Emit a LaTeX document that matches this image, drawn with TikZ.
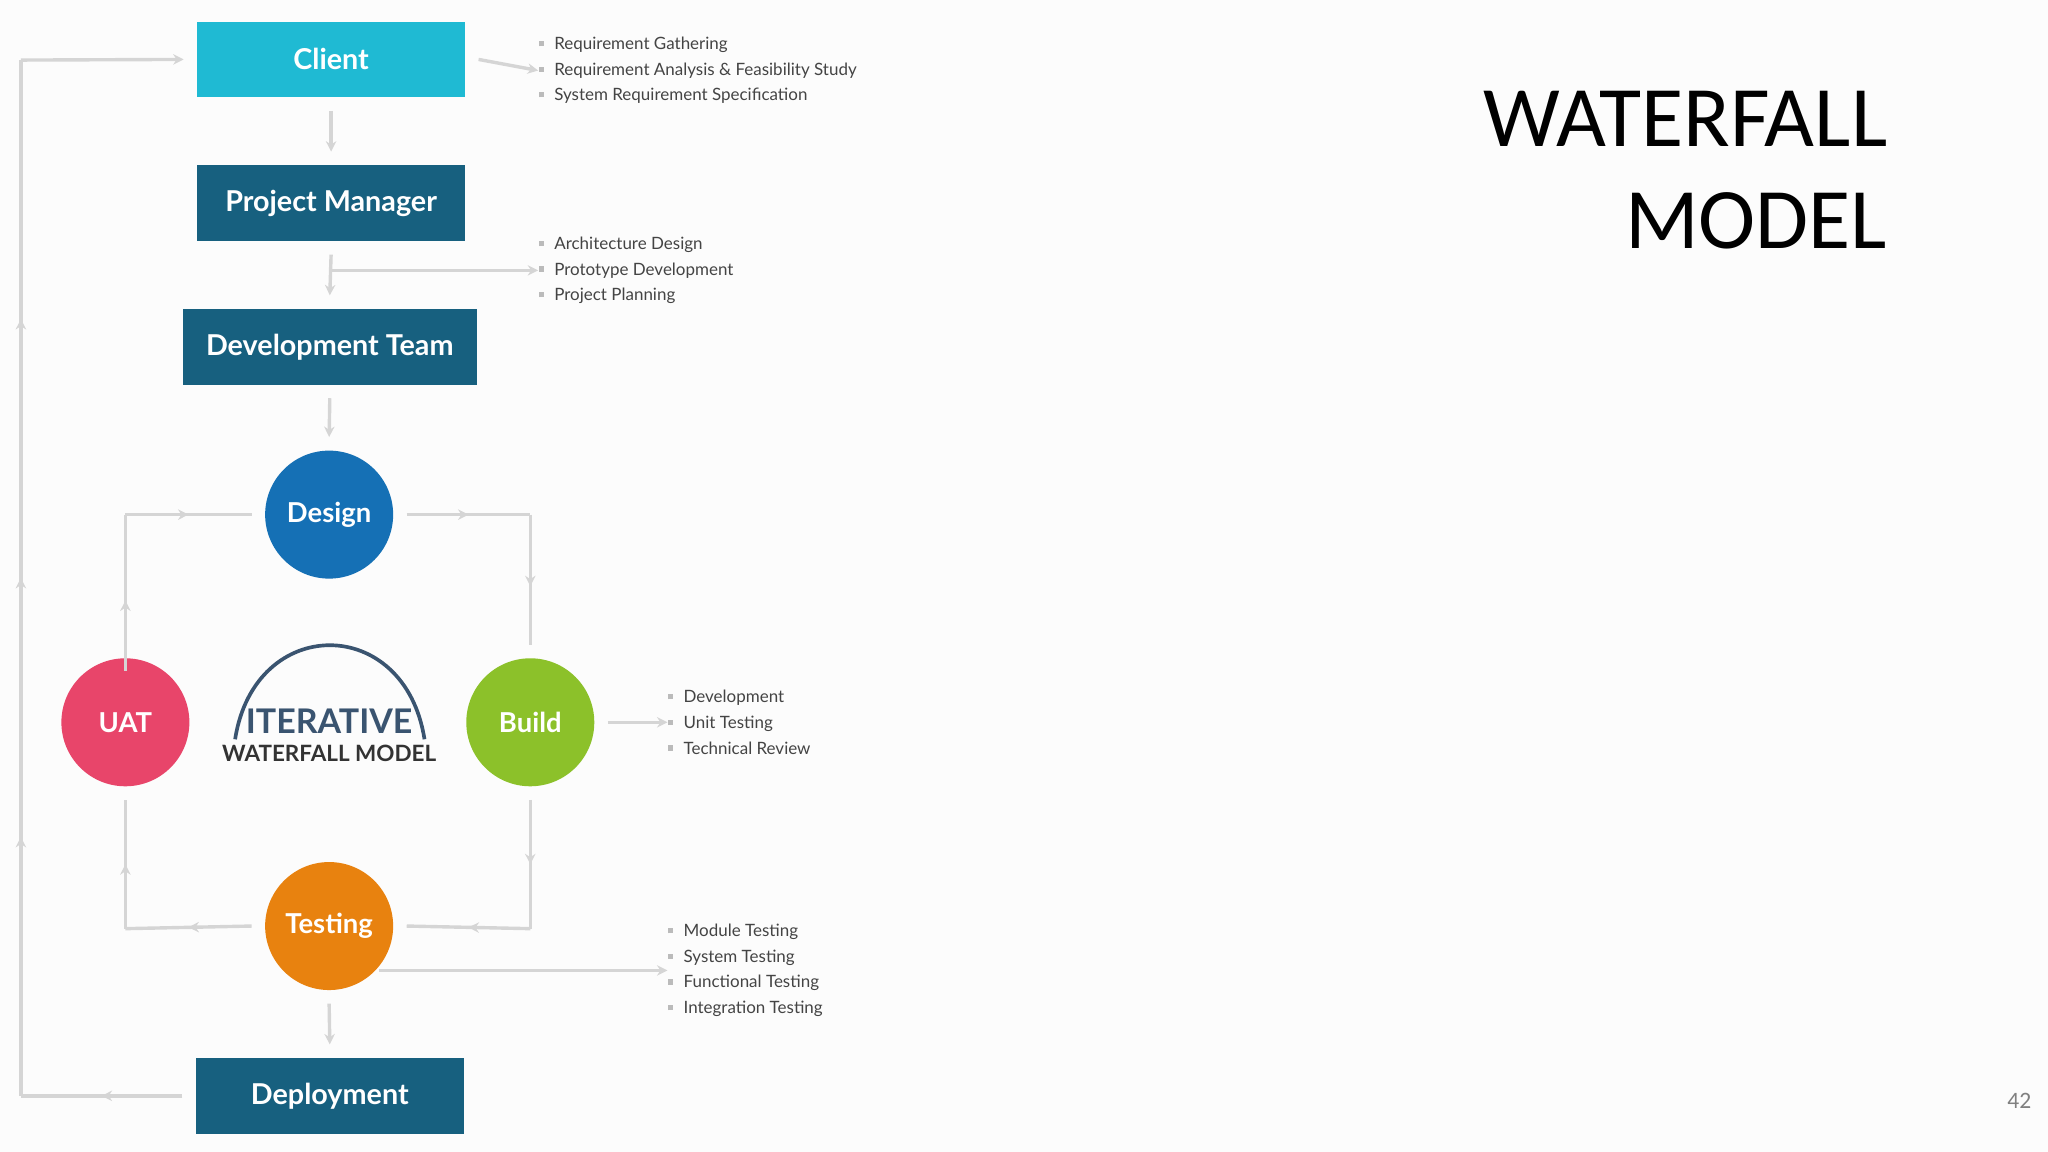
\documentclass[tikz,border=0pt]{standalone}
\usepackage{fontspec}
\setmainfont{Carlito}
\newfontfamily\lato{Lato}
\usetikzlibrary{decorations.markings,arrows.meta}
\definecolor{lineg}{HTML}{D5D5D5}
\definecolor{boxblue}{HTML}{17607F}
\definecolor{cyanb}{HTML}{1FBAD3}
\definecolor{designc}{HTML}{1570B5}
\definecolor{uatc}{HTML}{E8456A}
\definecolor{buildc}{HTML}{8CC12A}
\definecolor{testc}{HTML}{E8820F}
\definecolor{itc}{HTML}{3A5470}
\definecolor{txt}{HTML}{444444}
\tikzset{
  x=0.5pt,y=-0.5pt,
  box/.style={draw=none,minimum width=102.5pt,minimum height=29pt,inner sep=0pt,text=white,font=\lato\bfseries\fontsize{11}{13}\selectfont},
  circ/.style={circle,minimum size=49pt,inner sep=0pt,text=white,font=\lato\bfseries\fontsize{10.5}{12}\selectfont},
  conn/.style={draw=lineg,line width=1.3pt,-{Stealth[length=4pt,width=4pt]}},
  loop/.style={draw=lineg,line width=1.3pt,postaction={decorate},decoration={markings,mark=at position #1 with {\arrow{Stealth[length=4pt,width=4pt]}}}},
  loop/.default=0.5,
  bul/.style={anchor=west,inner sep=0pt,text=txt,font=\lato\fontsize{6.5}{9.8}\selectfont,align=left},
}
\newcommand{\sq}{\textcolor{lineg!70!gray}{\rule[0.4ex]{2pt}{2pt}}\hspace{4pt}}
\begin{document}
\begin{tikzpicture}
\fill[white!98!gray] (0,0) rectangle (1568,882);
\useasboundingbox (0,0) rectangle (1568,882);
% boxes
\node[box,fill=cyanb] (client) at (253.5,45.5) {Client};
\node[box,fill=boxblue] (pm) at (253.5,155.5) {Project Manager};
\node[box,fill=boxblue,minimum width=112.5pt] (dt) at (252.5,265.5) {Development Team};
\node[box,fill=boxblue] (dep) at (252.5,839) {Deployment};
% circles
\node[circ,fill=designc] (design) at (252,394) {Design};
\node[circ,fill=uatc] (uat) at (96,553) {UAT};
\node[circ,fill=buildc] (build) at (406,553) {Build};
\node[circ,fill=testc] (test) at (252,709) {Testing};
% centre logo
\draw[itc,line width=1.4pt] (180,566) .. controls (195,470) and (310,470) .. (325,566);
\node[font=\lato\bfseries\fontsize{13}{14}\selectfont,text=itc] (it) at (252,552) {ITERATIVE};
\node[font=\lato\bfseries\fontsize{8.6}{10}\selectfont,text=black!80] (wm) at (252,577) {WATERFALL MODEL};
% bullets
\node[bul] (b1) at (412,54) {\sq Requirement Gathering\\\sq Requirement Analysis \& Feasibility Study\\\sq System Requirement Specification};
\node[bul] (b2) at (412,207) {\sq Architecture Design\\\sq Prototype Development\\\sq Project Planning};
\node[bul] (b3) at (511,553) {\sq Development\\\sq Unit Testing\\\sq Technical Review};
\node[bul] (b4) at (511,743) {\sq Module Testing\\\sq System Testing\\\sq Functional Testing\\\sq Integration Testing};
% straight connectors
\draw[conn] ([xshift=5pt]client.east) -- (b1.west);
\draw[conn] ([yshift=-5pt]client.south) -- ([yshift=5pt]pm.north);
\draw[conn] ([yshift=-5pt]pm.south) -- ([yshift=5pt]dt.north);
\coordinate (br) at (253,207);
\draw[conn] (br) -- (b2.west);
\draw[conn] ([yshift=-5pt]dt.south) -- ([yshift=5pt]design.north);
\draw[conn] ([xshift=5pt]build.east) -- (b3.west);
\coordinate (tb) at (290,743);
\draw[conn] (tb) -- (b4.west |- tb);
\draw[conn] ([yshift=-5pt]test.south) -- ([yshift=5pt]dep.north);
% iterative loop
\draw[loop=0.45] ([yshift=-5pt]uat.north) -- (96,394);
\draw[loop] (96,394) -- ([xshift=-5pt]design.west);
\draw[loop] ([xshift=5pt]design.east) -- (406,394);
\draw[loop=0.55] (406,394) -- ([yshift=5pt]build.north);
\draw[loop=0.5] ([yshift=-5pt]build.south) -- (406,711);
\draw[loop] (406,711) -- ([xshift=5pt]test.east);
\draw[loop] ([xshift=-5pt]test.west) -- (96,711);
\draw[loop=0.5] (96,711) -- ([yshift=-5pt]uat.south);
% outer feedback
\coordinate (c1) at (16,839);
\coordinate (c2) at (16,46);
\draw[loop] ([xshift=-5pt]dep.west) -- (c1);
\draw[lineg,line width=1.3pt,postaction={decorate},decoration={markings,
  mark=at position 0.25 with {\arrow{Stealth[length=4pt,width=4pt]}},
  mark=at position 0.5 with {\arrow{Stealth[length=4pt,width=4pt]}},
  mark=at position 0.75 with {\arrow{Stealth[length=4pt,width=4pt]}}}] (c1) -- (c2);
\draw[conn] (c2) -- ([xshift=-5pt]client.west);
% title
\node[anchor=east,align=right,font=\fontsize{33}{39}\selectfont\addfontfeatures{}] (title) at (1452,130) {WATERFALL\\MODEL};
\node[text=gray,font=\fontsize{9}{10}\selectfont] (pg) at (1546,843) {42};
\end{tikzpicture}
\end{document}
